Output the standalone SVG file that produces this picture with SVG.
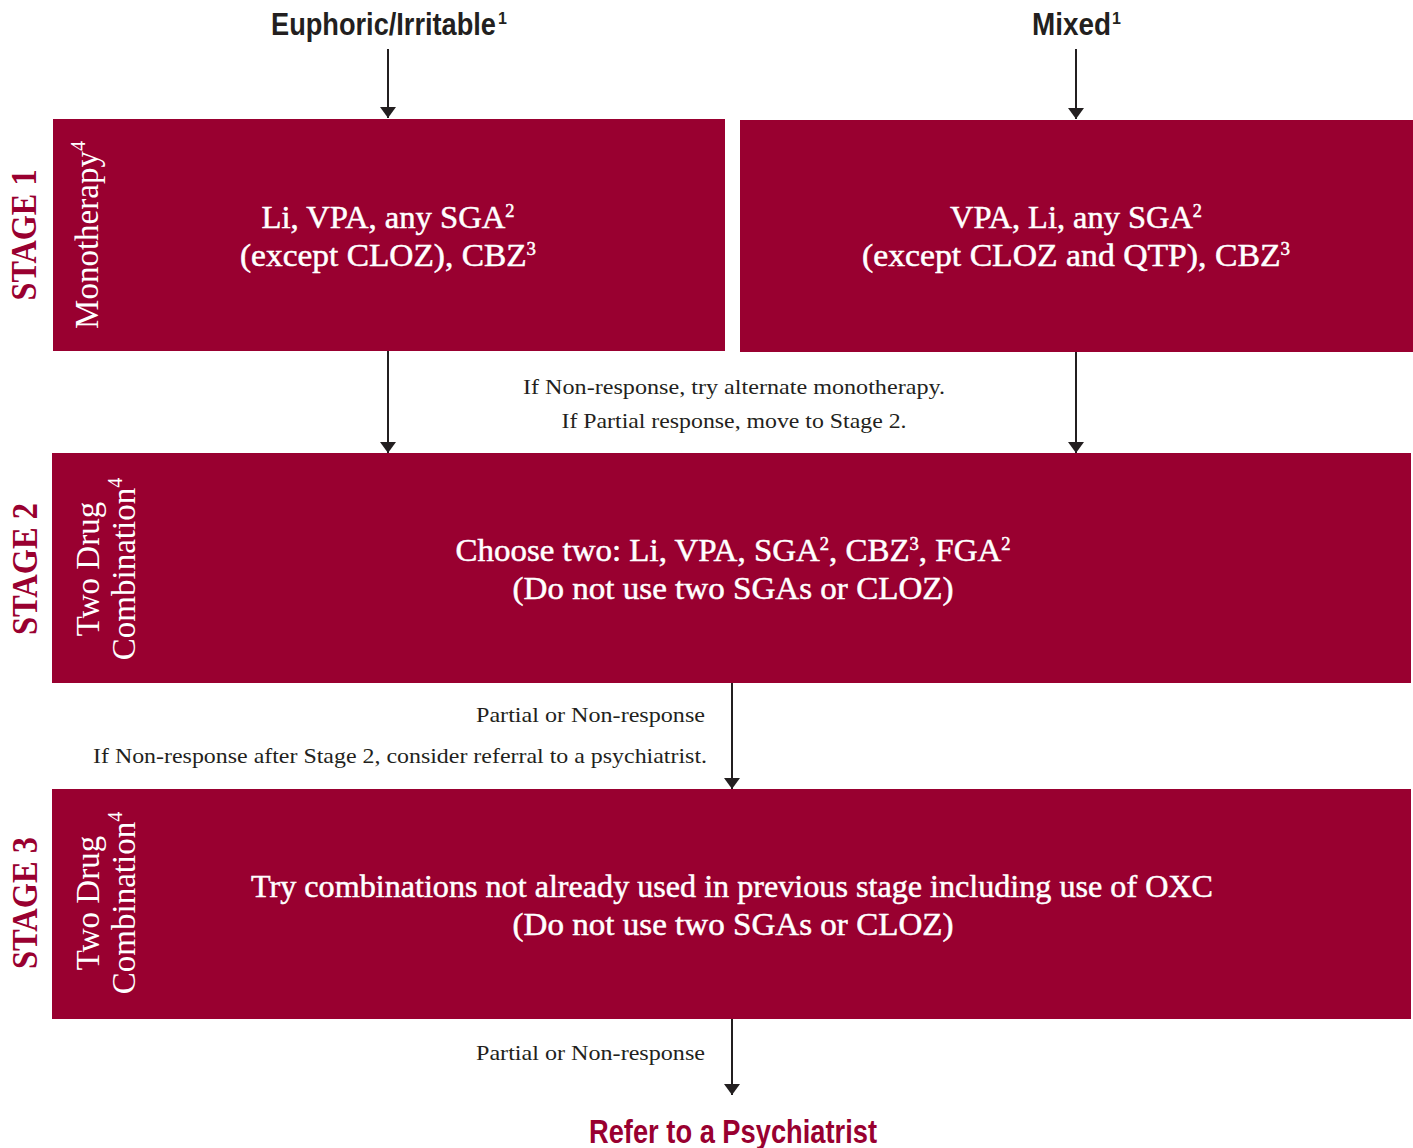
<svg xmlns="http://www.w3.org/2000/svg" width="1413" height="1148" viewBox="0 0 1413 1148">
<defs>
<style>
.box{fill:#990030;}
.hdr{font-family:"Liberation Sans",Arial,sans-serif;font-weight:bold;font-size:31px;fill:#231f20;}
.hsup{font-family:"Liberation Sans",Arial,sans-serif;font-weight:bold;font-size:16px;fill:#231f20;}
.refer{font-family:"Liberation Sans",Arial,sans-serif;font-weight:bold;font-size:33px;fill:#990030;text-anchor:middle;}
.stage{font-family:"Liberation Serif","Times New Roman",serif;font-weight:bold;font-size:36px;fill:#990030;text-anchor:middle;}
.side{font-family:"Liberation Serif","Times New Roman",serif;font-size:33px;fill:#ffffff;text-anchor:middle;}
.main{font-family:"Liberation Serif","Times New Roman",serif;font-size:32px;fill:#ffffff;stroke:#ffffff;stroke-width:0.5;text-anchor:middle;}
.note{font-family:"Liberation Serif","Times New Roman",serif;font-size:22px;fill:#231f20;}
.conn{stroke:#231f20;stroke-width:2;fill:none;}
</style>
<marker id="arr" markerUnits="userSpaceOnUse" viewBox="0 0 11 16" refX="11" refY="8" markerWidth="11" markerHeight="16" orient="auto">
<path d="M0,0 L11,8 L0,16 Z" fill="#231f20"/>
</marker>
</defs>
<rect width="1413" height="1148" fill="#ffffff"/>

<g id="header-euphoric">
<text class="hdr" x="271" y="35" textLength="225" lengthAdjust="spacingAndGlyphs">Euphoric/Irritable</text>
<text class="hsup" x="498" y="24">1</text>
</g>
<g id="header-mixed">
<text class="hdr" x="1032" y="35" textLength="79" lengthAdjust="spacingAndGlyphs">Mixed</text>
<text class="hsup" x="1112" y="24">1</text>
</g>

<g id="stage1-label">
<text class="stage" transform="translate(36,235) rotate(-90)" textLength="131" lengthAdjust="spacingAndGlyphs">STAGE 1</text>
</g>
<g id="stage1-euphoric">
<rect class="box" x="53" y="119" width="672" height="232"/>
<text class="side" transform="translate(98,235) rotate(-90)">Monotherapy<tspan font-size="20" dy="-13">4</tspan></text>
<text class="main" x="388" y="228" textLength="253" lengthAdjust="spacingAndGlyphs">Li, VPA, any SGA<tspan font-size="18" dy="-11">2</tspan></text>
<text class="main" x="388" y="266" textLength="296" lengthAdjust="spacingAndGlyphs">(except CLOZ), CBZ<tspan font-size="18" dy="-11">3</tspan></text>
</g>
<g id="stage1-mixed">
<rect class="box" x="740" y="120" width="673" height="232"/>
<text class="main" x="1076" y="228" textLength="252" lengthAdjust="spacingAndGlyphs">VPA, Li, any SGA<tspan font-size="18" dy="-11">2</tspan></text>
<text class="main" x="1076" y="266" textLength="428" lengthAdjust="spacingAndGlyphs">(except CLOZ and QTP), CBZ<tspan font-size="18" dy="-11">3</tspan></text>
</g>

<g id="stage2-label">
<text class="stage" transform="translate(37,569) rotate(-90)" textLength="132" lengthAdjust="spacingAndGlyphs">STAGE 2</text>
</g>
<g id="stage2">
<rect class="box" x="52" y="453" width="1359" height="230"/>
<text class="side" transform="translate(99,569) rotate(-90)">Two Drug</text>
<text class="side" transform="translate(135,569) rotate(-90)">Combination<tspan font-size="20" dy="-13">4</tspan></text>
<text class="main" x="733" y="561" textLength="555" lengthAdjust="spacingAndGlyphs">Choose two: Li, VPA, SGA<tspan font-size="18" dy="-11">2</tspan><tspan dy="11">, CBZ</tspan><tspan font-size="18" dy="-11">3</tspan><tspan dy="11">, FGA</tspan><tspan font-size="18" dy="-11">2</tspan></text>
<text class="main" x="733" y="599" textLength="441" lengthAdjust="spacingAndGlyphs">(Do not use two SGAs or CLOZ)</text>
</g>

<g id="stage3-label">
<text class="stage" transform="translate(37,903) rotate(-90)" textLength="132" lengthAdjust="spacingAndGlyphs">STAGE 3</text>
</g>
<g id="stage3">
<rect class="box" x="52" y="789" width="1359" height="230"/>
<text class="side" transform="translate(99,903) rotate(-90)">Two Drug</text>
<text class="side" transform="translate(135,903) rotate(-90)">Combination<tspan font-size="20" dy="-13">4</tspan></text>
<text class="main" x="732" y="897" textLength="962" lengthAdjust="spacingAndGlyphs">Try combinations not already used in previous stage including use of OXC</text>
<text class="main" x="733" y="935" textLength="441" lengthAdjust="spacingAndGlyphs">(Do not use two SGAs or CLOZ)</text>
</g>

<g id="refer">
<text class="refer" x="733" y="1143" textLength="288" lengthAdjust="spacingAndGlyphs">Refer to a Psychiatrist</text>
</g>

<g id="connectors">
<line class="conn" x1="388" y1="49" x2="388" y2="118" marker-end="url(#arr)"/>
<line class="conn" x1="1076" y1="49" x2="1076" y2="119" marker-end="url(#arr)"/>
<line class="conn" x1="388" y1="351" x2="388" y2="453" marker-end="url(#arr)"/>
<line class="conn" x1="1076" y1="352" x2="1076" y2="453" marker-end="url(#arr)"/>
<line class="conn" x1="732" y1="683" x2="732" y2="789" marker-end="url(#arr)"/>
<line class="conn" x1="732" y1="1019" x2="732" y2="1095" marker-end="url(#arr)"/>
</g>

<g id="connector-labels">
<text class="note" x="734" y="394" text-anchor="middle" textLength="422" lengthAdjust="spacingAndGlyphs">If Non-response, try alternate monotherapy.</text>
<text class="note" x="734" y="428" text-anchor="middle" textLength="345" lengthAdjust="spacingAndGlyphs">If Partial response, move to Stage 2.</text>
<text class="note" x="705" y="722" text-anchor="end" textLength="229" lengthAdjust="spacingAndGlyphs">Partial or Non-response</text>
<text class="note" x="707" y="763" text-anchor="end" textLength="614" lengthAdjust="spacingAndGlyphs">If Non-response after Stage 2, consider referral to a psychiatrist.</text>
<text class="note" x="705" y="1060" text-anchor="end" textLength="229" lengthAdjust="spacingAndGlyphs">Partial or Non-response</text>
</g>
</svg>
